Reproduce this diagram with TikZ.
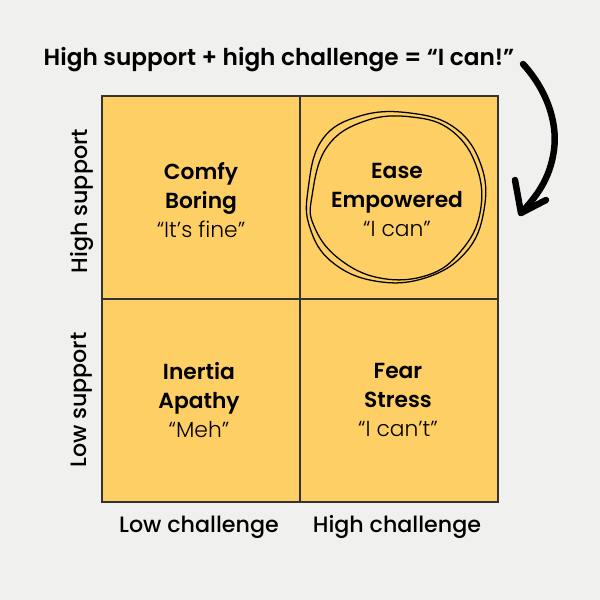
\documentclass[tikz,border=0pt]{standalone}
\usepackage{fontspec}
\setmainfont{Poppins}
\IfFontExistsTF{Poppins SemiBold}{\newfontfamily\semib{Poppins SemiBold}}{\newcommand\semib{\bfseries}}
\IfFontExistsTF{Poppins Medium}{\newfontfamily\medw{Poppins Medium}}{\newcommand\medw{}}
\IfFontExistsTF{Poppins Light}{\newfontfamily\lightw{Poppins Light}}{\newcommand\lightw{}}
\definecolor{bg}{HTML}{F0F0EE}
\definecolor{cell}{HTML}{FDCF65}
\definecolor{grid}{HTML}{333333}
\begin{document}
\begin{tikzpicture}[x=0.025cm,y=-0.025cm,
  cellbox/.style={draw=grid,fill=cell,line width=1.1pt},
  quad/.style={align=center,font=\fontsize{15.5}{20.6}\selectfont,inner sep=0pt},
  axis/.style={font=\fontsize{15.8}{18}\selectfont\medw,inner sep=0pt},
  loop/.style={line width=0.9pt,black},
  arrowline/.style={line width=4.6pt,black,line cap=round,line join=round}]
\useasboundingbox (0,0) rectangle (600,600);
\fill[bg] (0,0) rectangle (600,600);
% grid
\draw[cellbox] (102,96) rectangle (498,502);
\draw[grid,line width=1.1pt] (300,96) -- (300,502);
\draw[grid,line width=1.1pt] (102,299) -- (498,299);
% title
\node[inner sep=0pt,font=\fontsize{16.5}{18}\selectfont\semib] (title) at (279,60) {High support + high challenge = “I can!”};
% quadrants
\node[quad] (tl) at (201,200) {{\semib Comfy}\\{\semib Boring}\\{\lightw “It’s fine”}};
\node[quad] (tr) at (397,200) {{\semib Ease}\\{\semib Empowered}\\{\lightw “I can”}};
\node[quad] (bl) at (199,400) {{\semib Inertia}\\{\semib Apathy}\\{\lightw “Meh”}};
\node[quad] (br) at (398,400) {{\semib Fear}\\{\semib Stress}\\{\lightw “I can’t”}};
% axis labels
\node[axis,rotate=90] (hs) at (82,201) {High support};
\node[axis,rotate=90] (ls) at (82,400) {Low support};
\node[axis] (lc) at (199,527) {Low challenge};
\node[axis] (hc) at (397,527) {High challenge};
% hand-drawn circle
\draw[loop] plot[smooth cycle,tension=0.7] coordinates {(308,190) (322,140) (360,116) (410,113) (455,128) (481,165) (484,210) (466,252) (425,278) (375,281) (332,262) (310,228)};
\draw[loop] plot[smooth cycle,tension=0.7] coordinates {(312,196) (327,147) (365,121) (412,117) (452,131) (477,168) (480,213) (461,251) (428,275) (380,278) (338,258) (314,226)};
% arrow
\coordinate (as) at (523,64);
\coordinate (am) at (554,150);
\coordinate (at) at (521,213);
\draw[arrowline] (as) .. controls (545,88) and (558,120) .. (am) .. controls (550,180) and (535,198) .. (at);
\draw[arrowline] (515,180) -- (at) -- (546,200);
\end{tikzpicture}
\end{document}
